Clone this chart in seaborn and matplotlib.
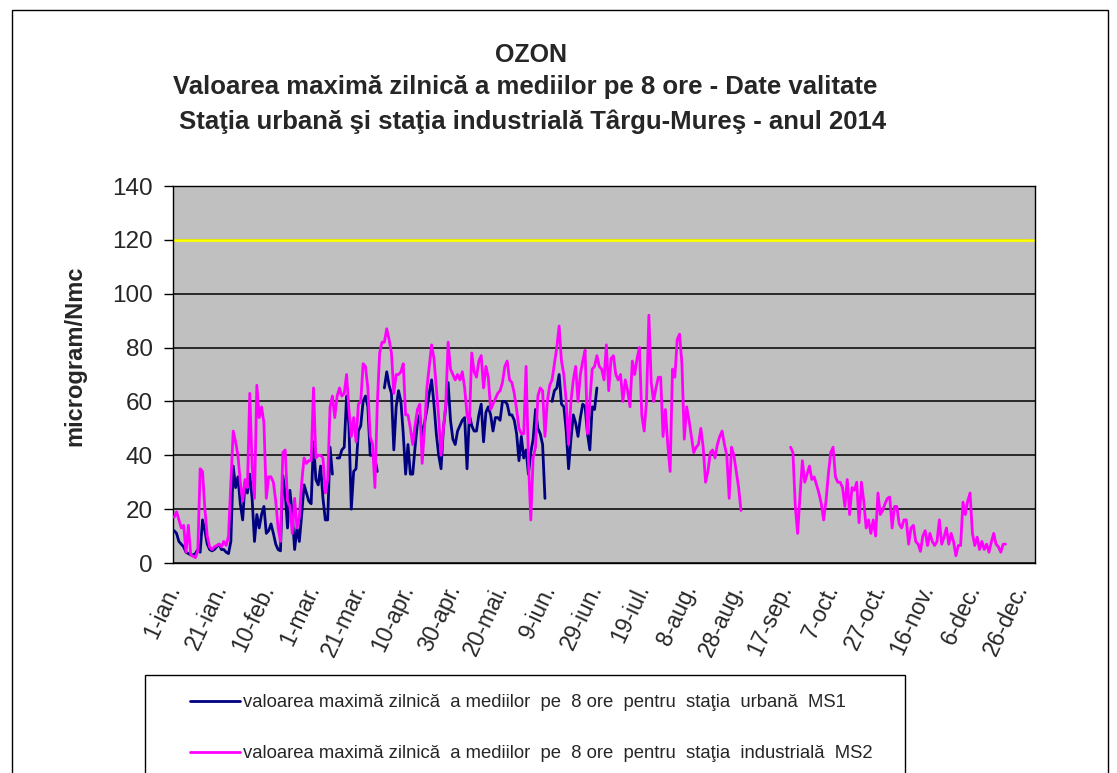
import numpy as np
import pandas as pd
import matplotlib
matplotlib.use("Agg")
import matplotlib.pyplot as plt
import seaborn as sns
from matplotlib.lines import Line2D
from matplotlib.patches import Rectangle

nan = np.nan

# Daily maximum of 8-hour means, urban station MS1 (from 1 Jan 2014)
ms1_urban = [
    12, 11, 8, 7, 6, 4, 3.5, 3, 3, 3.5,
    5, 4, 16, 12, 7, 5, 4.5, 5, 6, 7,
    5, 5, 4, 3.5, 8, 36, 28, 32, 22, 16,
    30, 26, 33, 24, 8, 18, 13, 18, 21, 11,
    12, 14.5, 11, 7, 5, 4.5, 32.5, 26, 13, 27,
    18, 5, 13, 8, 18, 29, 26, 23, 22, 45,
    31, 29, 36, 24, 16, 16, 43, 33, nan, 39,
    39, 42, 43, 62, 51, 20, 34, 35, 49, 51,
    60, 62, 58, 40, 40, 39, 34, nan, nan, 65,
    71, 66, 63, 42, 58, 64, 60, 48, 33, 44,
    33, 33, 43, 52, 55, 47, 52, 57, 63, 68,
    59, 48, 40, 35, 50, 58, 67, 53, 46, 44,
    49, 51, 53, 54, 35, 55, 51, 49, 49, 55,
    59, 45, 56, 58, 55, 49, 54, 54, 53, 60,
    60, 59, 55, 55, 53, 48, 38, 47, 39, 42,
    33, 41, 46, 57, 50, 48, 44, 24, nan, nan,
    60, 64, 65, 70, 59, 58, 49, 35, 46, 55,
    52, 47, 54, 59, 58, 48, 42, 58, 57, 65,
]

# Daily maximum of 8-hour means, industrial station MS2 (from 1 Jan 2014)
ms2_industrial = [
    17, 19, 16, 13, 14, 4, 14, 3, 2.5, 2,
    4.5, 35, 34, 20, 10, 6, 5, 6, 6.5, 7,
    6, 8, 6.5, 10, 30, 49, 45, 40, 30, 23,
    31, 28, 63, 36, 24, 66, 54, 58, 52, 24,
    32, 32, 30, 23, 13, 8, 41, 42, 23, 21,
    11, 24, 13, 17, 30, 39, 37, 38, 38, 65,
    39, 40, 40, 39, 26, 31, 58, 62, 54, 62,
    65, 62, 63, 70, 57, 47, 54, 45, 59, 60,
    74, 73, 65, 47, 44, 28, 59, 78, 82, 82,
    87, 83, 78, 63, 70, 70, 71, 74, 55, 55,
    50, 44, 51, 57, 59, 37, 50, 65, 73, 81,
    76, 65, 54, 40, 50, 59, 82, 72, 70, 68,
    70, 68, 71, 65, 55, 52, 78, 71, 69, 75,
    77, 65, 73, 69, 57, 59, 61, 63, 64, 67,
    73, 75, 68, 67, 63, 57, 50, 48, 48, 73,
    38, 16, 39, 43, 62, 65, 64, 47, 60, 66,
    68, 74, 80, 88, 75, 70, 60, 44, 60, 68,
    73, 60, 70, 75, 79, 48, 60, 72, 73, 77,
    73, 72, 68, 81, 64, 76, 77, 70, 68, 70,
    60, 68, 64, 58, 75, 70, 76, 80, 55, 49,
    60, 92, 67, 60, 65, 69, 69, 47, 57, 44,
    34, 72, 69, 83, 85, 74, 46, 58, 53, 47,
    41, 43, 44, 50, 43, 30, 34, 41, 42, 39,
    44, 47, 49, 44, 40, 24, 43, 40, 34, 28,
    19.5, nan, nan, nan, nan, nan, nan, nan, nan, nan,
    nan, nan, nan, nan, nan, nan, nan, nan, nan, nan,
    nan, 43, 41, 21, 11, 25, 38, 30, 33, 36,
    31, 32, 29, 26, 22, 16, 23, 33, 41, 43,
    32, 30, 30, 28, 21, 31, 18, 28, 27, 30,
    15, 30, 23, 13, 16, 11, 16, 10, 26, 18,
    19.5, 22, 24, 24.5, 13, 21, 21, 14.5, 13, 16,
    16, 7, 13, 14, 8, 7, 4.3, 10, 12, 6.5,
    11, 8, 6.5, 8, 16, 7, 9.6, 13, 7, 11,
    8, 2.7, 6.5, 6.5, 22.6, 18, 23, 26, 11, 6.5,
    9.6, 5, 8, 5, 7, 4, 7.7, 11, 7, 6,
    4, 7, 7,
]

tick_dates = ["2014-01-01", "2014-01-21", "2014-02-10", "2014-03-01", "2014-03-21",
              "2014-04-10", "2014-04-30", "2014-05-20", "2014-06-09", "2014-06-29",
              "2014-07-19", "2014-08-08", "2014-08-28", "2014-09-17", "2014-10-07",
              "2014-10-27", "2014-11-16", "2014-12-06", "2014-12-26"]
tick_labels = ["1-ian.", "21-ian.", "10-feb.", "1-mar.", "21-mar.", "10-apr.", "30-apr.",
               "20-mai.", "9-iun.", "29-iun.", "19-iul.", "8-aug.", "28-aug.", "17-sep.",
               "7-oct.", "27-oct.", "16-nov.", "6-dec.", "26-dec."]
y_ticks = [0, 20, 40, 60, 80, 100, 120, 140]
limit_value = 120

label_ms1 = "valoarea maximă zilnică  a mediilor  pe  8 ore  pentru  staţia  urbană  MS1"
label_ms2 = "valoarea maximă zilnică  a mediilor  pe  8 ore  pentru  staţia  industrială  MS2"
title_lines = ["OZON",
               "Valoarea maximă zilnică a mediilor pe 8 ore - Date valitate",
               "Staţia urbană şi staţia industrială Târgu-Mureş - anul 2014"]
y_label = "microgram/Nmc"

# ---- data frame ----
dates = pd.date_range("2014-01-01", "2014-12-31", freq="D")
n_days = len(dates)
frames = []
for name, vals in [(label_ms1, ms1_urban), (label_ms2, ms2_industrial)]:
    s = pd.Series(vals, dtype=float)
    seg = s.isna().cumsum()
    df = pd.DataFrame({"day": np.arange(len(s)), "value": s, "series": name,
                       "unit": name + "_" + seg.astype(str)})
    frames.append(df.dropna())
data = pd.concat(frames, ignore_index=True)

# ---- figure ----
sns.set_style("white")
plt.rcParams["font.family"] = ["Liberation Sans", "DejaVu Sans"]

W, H = 1117, 773
fig = plt.figure(figsize=(W / 100, H / 100), dpi=100)
fig.patch.set_facecolor("white")

# outer chart frame
fig.add_artist(Rectangle((12 / W, -0.05), (1108 - 12) / W, 1 - 10 / H + 0.05,
                         transform=fig.transFigure, fill=False, edgecolor="black",
                         linewidth=1, clip_on=False))

ax = fig.add_axes([173 / W, 1 - 563 / H, (1035 - 173) / W, (563 - 186) / H])
ax.set_facecolor("#C0C0C0")

sns.lineplot(data=data, x="day", y="value", hue="series", units="unit", estimator=None,
             hue_order=[label_ms1, label_ms2],
             palette={label_ms1: "#000080", label_ms2: "#FF00FF"},
             linewidth=2, legend=False, ax=ax, zorder=3)

ax.axhline(limit_value, color="#FFFF00", linewidth=2, zorder=2)

ax.set_xlim(-0.5, n_days - 0.5)
ax.set_ylim(0, 140)
ax.set_yticks(y_ticks)
ax.set_yticklabels([str(v) for v in y_ticks], fontsize=17.5)
ax.yaxis.grid(True, color="black", linewidth=1.1)
ax.set_axisbelow(True)

tick_pos = [pd.Timestamp(d).dayofyear - 1 for d in tick_dates]
ax.set_xticks(tick_pos)
ax.set_xticklabels(tick_labels, rotation=65, ha="right", va="center",
                   rotation_mode="anchor", fontsize=16.5)
ax.set_xticks(np.arange(-0.5, n_days, 1), minor=True)
ax.tick_params(axis="x", which="major", length=0, pad=16)
ax.tick_params(axis="x", which="minor", length=5, width=0.8, color="black", direction="out")
ax.tick_params(axis="y", which="major", length=6.5, width=1, color="black",
               direction="out", pad=8, left=True)
ax.set_xlabel("")
ax.set_ylabel("")
for sp in ax.spines.values():
    sp.set_color("black")
    sp.set_linewidth(1)

fig.text(75 / W, 1 - 356 / H, y_label, rotation=90, ha="center", va="center",
         fontsize=17, fontweight="bold")

# titles
fig.text(531 / W, 1 - 55 / H, title_lines[0], ha="center", va="center",
         fontsize=18, fontweight="bold")
fig.text(525 / W, 1 - 87 / H, title_lines[1], ha="center", va="center",
         fontsize=18.5, fontweight="bold")
fig.text(533 / W, 1 - 122 / H, title_lines[2], ha="center", va="center",
         fontsize=18.5, fontweight="bold")

# legend box
fig.add_artist(Rectangle((145 / W, -0.05), (905 - 145) / W, 1 - 675 / H + 0.05,
                         transform=fig.transFigure, facecolor="white", edgecolor="black",
                         linewidth=1, clip_on=False, zorder=1))
handles = [Line2D([], [], color="#000080", linewidth=2),
           Line2D([], [], color="#FF00FF", linewidth=2)]
leg = fig.legend(handles, [label_ms1, label_ms2], loc="upper left",
                 bbox_to_anchor=(190 / W, 1 - 694 / H), frameon=False,
                 fontsize=13.3, handlelength=2.7, handletextpad=0.16,
                 labelspacing=1.85, borderpad=0, borderaxespad=0)
leg.set_zorder(5)

fig.savefig("out.png", dpi=100, facecolor="white")
